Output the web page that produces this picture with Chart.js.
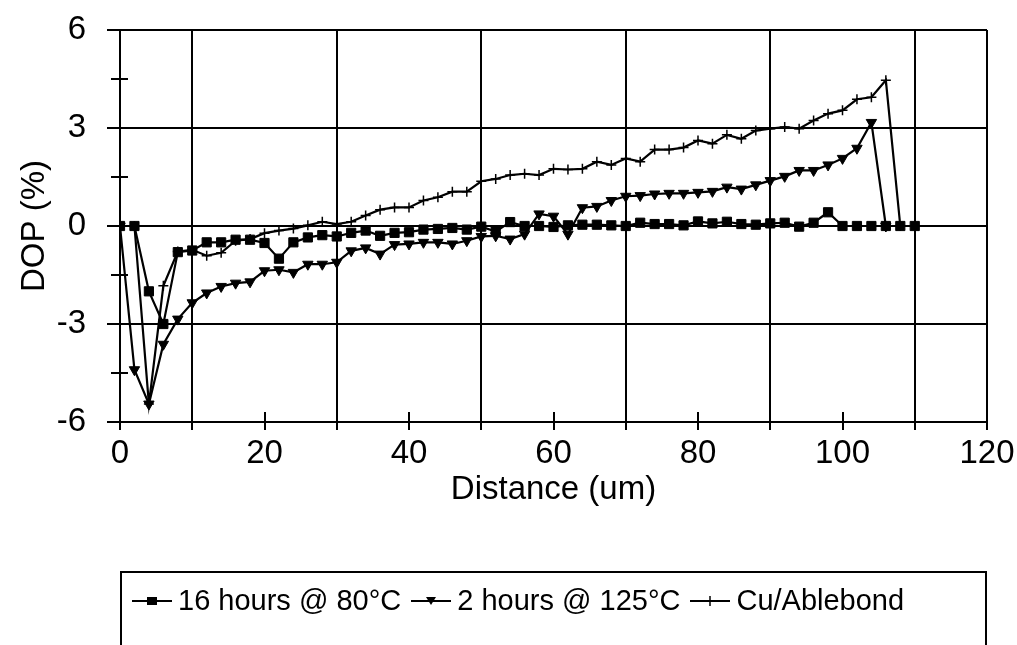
<!DOCTYPE html>
<html>
<head>
<meta charset="utf-8">
<script src="https://cdn.jsdelivr.net/npm/chart.js@4/dist/chart.umd.min.js"></script>
<style>
html,body{margin:0;padding:0;background:#fff;}
#wrap{position:relative;width:1017px;height:645px;overflow:hidden;background:#fff;}
#c{position:absolute;left:0;top:0;}
#legend{position:absolute;left:120px;top:571px;width:867px;height:110px;border:2px solid #000;box-sizing:border-box;
  font-family:"Liberation Sans",Arial,sans-serif;font-size:29px;color:#000;display:flex;align-items:flex-start;padding:11px 0 0 10px;}
.item{display:flex;align-items:center;margin-right:10px;white-space:nowrap;}
.item svg{margin-right:6px;}
</style>
</head>
<body>
<div id="wrap">
<canvas id="c" width="1017" height="645"></canvas>
<div id="legend"></div>
</div>
<script>
// ---- data ----
const DISTANCE = [0,2,4,6,8,10,12,14,16,18,20,22,24,26,28,30,32,34,36,38,40,42,44,46,48,50,52,54,56,58,60,62,64,66,68,70,72,74,76,78,80,82,84,86,88,90,92,94,96,98,100,102,104,106,108,110];
const SERIES_NAMES = ["16 hours @ 80\u00B0C", "2 hours @ 125\u00B0C", "Cu/Ablebond"];
const HOURS16_80C = [0,0,-2.0,-3.0,-0.8,-0.75,-0.5,-0.5,-0.42,-0.42,-0.52,-1.0,-0.5,-0.35,-0.28,-0.32,-0.21,-0.14,-0.3,-0.21,-0.19,-0.11,-0.09,-0.06,-0.11,-0.02,-0.17,0.12,0.0,0.0,-0.03,0.02,0.04,0.04,0.02,0.0,0.1,0.06,0.06,0.02,0.14,0.08,0.13,0.06,0.04,0.08,0.1,-0.02,0.1,0.42,0,0,0,0,0,0];
const HOURS2_125C = [0,-4.4,-5.45,-3.62,-2.85,-2.35,-2.05,-1.85,-1.75,-1.71,-1.37,-1.34,-1.42,-1.17,-1.17,-1.11,-0.76,-0.67,-0.86,-0.57,-0.55,-0.5,-0.5,-0.55,-0.45,-0.32,-0.3,-0.4,-0.25,0.37,0.3,-0.25,0.56,0.6,0.78,0.91,0.93,0.98,1.0,1.0,1.03,1.06,1.19,1.13,1.26,1.39,1.52,1.7,1.7,1.87,2.07,2.38,3.17,0];
const CU_ABLEBOND = [0,0,-5.45,-1.83,-0.78,-0.73,-0.91,-0.82,-0.45,-0.4,-0.22,-0.14,-0.08,0.02,0.13,0.06,0.13,0.32,0.5,0.57,0.57,0.78,0.88,1.05,1.05,1.37,1.44,1.56,1.6,1.56,1.75,1.73,1.75,1.97,1.87,2.07,1.97,2.34,2.34,2.4,2.62,2.52,2.79,2.67,2.92,2.98,3.03,2.98,3.23,3.44,3.54,3.88,3.94,4.46,0];
const X_LABELS = [0,20,40,60,80,100,120];
const Y_LABELS = [-6,-3,0,3,6];
const X_MINOR = [20,40,60,80,100];
const Y_MINOR = [-4.5,-1.5,1.5,4.5];

const FONT = '"Liberation Sans", Arial, Helvetica, sans-serif';
Chart.defaults.font.family = FONT;
Chart.defaults.color = '#000';

function pts(vals){ return vals.map((v,i)=>({x:DISTANCE[i], y:v})); }
const TRANSPARENT = 'rgba(0,0,0,0)';

const minorTicks = {
  id:'minorTicks',
  afterDraw(chart){
    const ctx = chart.ctx, xs = chart.scales.x, ys = chart.scales.y;
    ctx.save();
    ctx.strokeStyle = '#000';
    ctx.lineWidth = 2;
    ctx.beginPath();
    Y_MINOR.forEach(v=>{
      const p = Math.round(ys.getPixelForValue(v));
      ctx.moveTo(ys.right - 9, p); ctx.lineTo(ys.right + 8, p);
    });
    X_MINOR.forEach(v=>{
      const p = Math.round(xs.getPixelForValue(v));
      ctx.moveTo(p, xs.top - 10); ctx.lineTo(p, xs.top);
    });
    ctx.stroke();
    ctx.restore();
  }
};

new Chart(document.getElementById('c'), {
  type:'line',
  data:{
    datasets:[
      {label:SERIES_NAMES[0], data:pts(HOURS16_80C), borderColor:'#000', backgroundColor:'#000', borderWidth:2.2,
       pointStyle:'rect', pointRadius:6.5, pointBorderWidth:1, pointBackgroundColor:'#000', pointBorderColor:'#000', tension:0},
      {label:SERIES_NAMES[1], data:pts(HOURS2_125C), borderColor:'#000', backgroundColor:'#000', borderWidth:2.2,
       pointStyle:'triangle', pointRotation:180, pointRadius:6, pointBorderWidth:1, pointBackgroundColor:'#000', pointBorderColor:'#000', tension:0},
      {label:SERIES_NAMES[2], data:pts(CU_ABLEBOND), borderColor:'#000', backgroundColor:'#000', borderWidth:2.2,
       pointStyle:'cross', pointRadius:5, pointBorderWidth:1.5, pointBackgroundColor:'#000', pointBorderColor:'#000', tension:0}
    ]
  },
  options:{
    responsive:false, animation:false, devicePixelRatio:1,
    layout:{padding:{left:0, top:30, right:30, bottom:123}},
    plugins:{legend:{display:false}, tooltip:{enabled:false}},
    scales:{
      x:{
        type:'linear', min:0, max:120,
        afterFit(s){ s.height = 100; s.paddingLeft = 0; s.paddingRight = 0; },
        ticks:{stepSize:10, autoSkip:false, maxRotation:0, padding:4, color:'#000',
          font:{size:33, family:FONT},
          callback:(v)=> X_LABELS.includes(v) ? String(v) : ''},
        grid:{lineWidth:2, tickLength:8, tickWidth:2, tickColor:'#000',
          color:(c)=>{ const v=c.tick?c.tick.value:null; return (v!==null && (v%20===10 || v===120)) ? '#000' : TRANSPARENT; }},
        border:{display:true, color:'#000', width:2},
        title:{display:true, text:'Distance (um)', color:'#000', font:{size:33, family:FONT}, padding:{top:0,bottom:12}}
      },
      y:{
        type:'linear', min:-6, max:6,
        afterFit(s){ s.width = 120; s.paddingTop = 0; s.paddingBottom = 0; },
        ticks:{stepSize:1.5, autoSkip:false, padding:21, color:'#000',
          font:{size:33, family:FONT},
          callback:(v)=> Y_LABELS.includes(v) ? String(v) : ''},
        grid:{lineWidth:2, tickLength:13, tickWidth:2,
          tickColor:(c)=>{ const v=c.tick?c.tick.value:null; return (v!==null && Y_LABELS.includes(v)) ? '#000' : TRANSPARENT; },
          color:(c)=>{ const v=c.tick?c.tick.value:null; return (v!==null && Y_LABELS.includes(v)) ? '#000' : TRANSPARENT; }},
        border:{display:true, color:'#000', width:2},
        title:{display:true, text:'DOP (%)', color:'#000', font:{size:33, family:FONT}, padding:{top:15,bottom:0}}
      }
    }
  },
  plugins:[minorTicks]
});

// ---- HTML legend (line + marker + text) ----
const MARKERS = [
  '<rect x="15" y="4" width="10" height="8" fill="#000"/>',
  '<polygon points="15,4 25,4 20,12" fill="#000"/>',
  '<line x1="20" y1="3" x2="20" y2="13" stroke="#000" stroke-width="1.5"/>'
];
const legend = document.getElementById('legend');
SERIES_NAMES.forEach((name,i)=>{
  const d = document.createElement('div');
  d.className='item';
  d.innerHTML = '<svg width="40" height="16" viewBox="0 0 40 16"><line x1="0" y1="8" x2="40" y2="8" stroke="#000" stroke-width="2"/>'+MARKERS[i]+'</svg><span>'+name+'</span>';
  legend.appendChild(d);
});
</script>
</body>
</html>
